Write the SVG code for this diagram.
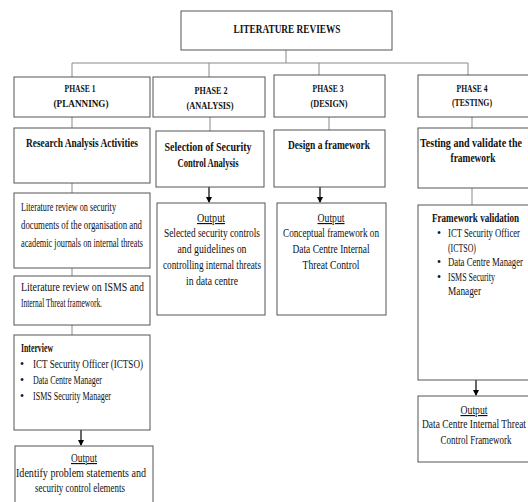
<svg xmlns="http://www.w3.org/2000/svg" width="528" height="502" viewBox="0 0 528 502">
<style>
.b{fill:#fff;stroke:#555;stroke-width:1}
.c{stroke:#8a8a8a;stroke-width:1;fill:none}
.a{stroke:#000;stroke-width:1.2;fill:none;marker-end:url(#ah)}
text{font-family:"Liberation Serif","Times New Roman",serif;font-size:11.5px;fill:#111}
.h{font-weight:bold;font-size:12.5px}
.p{font-weight:bold;font-size:11px}
.m{text-anchor:middle}
.u{text-decoration:underline}
</style>
<defs>
<marker id="ah" markerWidth="6" markerHeight="6" refX="5" refY="3" orient="auto" markerUnits="userSpaceOnUse">
<path d="M0,0 L6,3 L0,6 Z" fill="#000"/>
</marker>
</defs>
<g id="connectors">
<path class="c" d="M286,50 V63 M72,63 H468 M72,63 V77 M209,63 V77 M319,63 V75 M468,63 V75"/>
<path class="c" d="M72,117 V128 M210,117 V131 M329,117 V130 M472,117 V128"/>
<path class="c" d="M72,183 V193 M72,268 V276 M72,325 V335 M472,188 V205"/>
<path class="a" d="M81,430 V445"/>
<path class="a" d="M209,187 V202"/>
<path class="a" d="M320,187 V202"/>
<path class="a" d="M476,380 V395"/>
</g>
<g id="literature-reviews">
<rect class="b" x="181" y="11" width="211" height="39"/>
<text class="m" x="287" y="33" style="font-weight:bold;font-size:13.5px" textLength="107" lengthAdjust="spacingAndGlyphs">LITERATURE REVIEWS</text>
</g>
<g id="phase1">
<rect class="b" x="14" y="77" width="136" height="40"/>
<text class="p m" x="80" y="92" textLength="31" lengthAdjust="spacingAndGlyphs">PHASE 1</text>
<text class="p m" x="81" y="107" textLength="55" lengthAdjust="spacingAndGlyphs">(PLANNING)</text>
</g>
<g id="phase2">
<rect class="b" x="153" y="77" width="112" height="40"/>
<text class="p m" x="211" y="94" textLength="33" lengthAdjust="spacingAndGlyphs">PHASE 2</text>
<text class="p m" x="210" y="109" textLength="47" lengthAdjust="spacingAndGlyphs">(ANALYSIS)</text>
</g>
<g id="phase3">
<rect class="b" x="274" y="75" width="111" height="42"/>
<text class="p m" x="328" y="92" textLength="31" lengthAdjust="spacingAndGlyphs">PHASE 3</text>
<text class="p m" x="329" y="107" textLength="37" lengthAdjust="spacingAndGlyphs">(DESIGN)</text>
</g>
<g id="phase4">
<rect class="b" x="418" y="75" width="111" height="42"/>
<text class="p m" x="472" y="92" textLength="31" lengthAdjust="spacingAndGlyphs">PHASE 4</text>
<text class="p m" x="472" y="106" textLength="40" lengthAdjust="spacingAndGlyphs">(TESTING)</text>
</g>
<g id="research">
<rect class="b" x="14" y="128" width="136" height="55"/>
<text class="h m" x="82" y="147" textLength="112" lengthAdjust="spacingAndGlyphs">Research Analysis Activities</text>
</g>
<g id="selection">
<rect class="b" x="156" y="131" width="108" height="56"/>
<text class="h m" x="208" y="151" textLength="87" lengthAdjust="spacingAndGlyphs">Selection of Security</text>
<text class="h m" x="208" y="167" textLength="61" lengthAdjust="spacingAndGlyphs">Control Analysis</text>
</g>
<g id="design">
<rect class="b" x="274" y="130" width="111" height="57"/>
<text class="h m" x="329" y="149" textLength="82" lengthAdjust="spacingAndGlyphs">Design a framework</text>
</g>
<g id="testing">
<rect class="b" x="418" y="128" width="111" height="60"/>
<text class="h m" x="471" y="147" textLength="102" lengthAdjust="spacingAndGlyphs">Testing and validate the</text>
<text class="h m" x="473" y="162" textLength="45" lengthAdjust="spacingAndGlyphs">framework</text>
</g>
<g id="lit-review-1">
<rect class="b" x="14" y="193" width="136" height="75"/>
<text x="21" y="211" textLength="95" lengthAdjust="spacingAndGlyphs">Literature review on security</text>
<text x="21" y="229" textLength="121" lengthAdjust="spacingAndGlyphs">documents of the organisation and</text>
<text x="21" y="247" textLength="122" lengthAdjust="spacingAndGlyphs">academic journals on internal threats</text>
</g>
<g id="lit-review-2">
<rect class="b" x="14" y="276" width="136" height="49"/>
<text x="21" y="291" textLength="123" lengthAdjust="spacingAndGlyphs">Literature review on ISMS and</text>
<text x="21" y="307" textLength="81" lengthAdjust="spacingAndGlyphs">Internal Threat framework.</text>
</g>
<g id="interview">
<rect class="b" x="14" y="335" width="136" height="95"/>
<text x="21" y="352" style="font-weight:bold" textLength="32" lengthAdjust="spacingAndGlyphs">Interview</text>
<text x="20" y="368">•</text>
<text x="33" y="368" textLength="110" lengthAdjust="spacingAndGlyphs">ICT Security Officer (ICTSO)</text>
<text x="20" y="384">•</text>
<text x="33" y="384" textLength="69" lengthAdjust="spacingAndGlyphs">Data Centre Manager</text>
<text x="20" y="400">•</text>
<text x="33" y="400" textLength="78" lengthAdjust="spacingAndGlyphs">ISMS Security Manager</text>
</g>
<g id="output1">
<rect class="b" x="15" y="446" width="138" height="58"/>
<text class="m u" x="84" y="462" textLength="26" lengthAdjust="spacingAndGlyphs">Output</text>
<text class="m" x="81" y="477" textLength="130" lengthAdjust="spacingAndGlyphs">Identify problem statements and</text>
<text class="m" x="80" y="492" textLength="90" lengthAdjust="spacingAndGlyphs">security control elements</text>
</g>
<g id="output2">
<rect class="b" x="157" y="203" width="108" height="112"/>
<text class="m u" x="211" y="222" textLength="28" lengthAdjust="spacingAndGlyphs">Output</text>
<text class="m" x="212" y="237" textLength="96" lengthAdjust="spacingAndGlyphs">Selected security controls</text>
<text class="m" x="212" y="253" textLength="69" lengthAdjust="spacingAndGlyphs">and guidelines on</text>
<text class="m" x="212" y="269" textLength="98" lengthAdjust="spacingAndGlyphs">controlling internal threats</text>
<text class="m" x="212" y="285" textLength="52" lengthAdjust="spacingAndGlyphs">in data centre</text>
</g>
<g id="output3">
<rect class="b" x="277" y="203" width="109" height="112"/>
<text class="m u" x="331" y="222" textLength="27" lengthAdjust="spacingAndGlyphs">Output</text>
<text class="m" x="331" y="237" textLength="96" lengthAdjust="spacingAndGlyphs">Conceptual framework on</text>
<text class="m" x="331" y="253" textLength="77" lengthAdjust="spacingAndGlyphs">Data Centre Internal</text>
<text class="m" x="331" y="269" textLength="57" lengthAdjust="spacingAndGlyphs">Threat Control</text>
</g>
<g id="framework-validation">
<rect class="b" x="418" y="205" width="111" height="175"/>
<text x="432" y="222" style="font-weight:bold" textLength="87" lengthAdjust="spacingAndGlyphs">Framework validation</text>
<text x="437" y="237">•</text>
<text x="448" y="237" textLength="72" lengthAdjust="spacingAndGlyphs">ICT Security Officer</text>
<text x="448" y="252" textLength="28" lengthAdjust="spacingAndGlyphs">(ICTSO)</text>
<text x="437" y="266">•</text>
<text x="448" y="266" textLength="75" lengthAdjust="spacingAndGlyphs">Data Centre Manager</text>
<text x="437" y="281">•</text>
<text x="448" y="281" textLength="47" lengthAdjust="spacingAndGlyphs">ISMS Security</text>
<text x="448" y="295" textLength="33" lengthAdjust="spacingAndGlyphs">Manager</text>
</g>
<g id="output4">
<rect class="b" x="418" y="396" width="111" height="66"/>
<text class="m u" x="474" y="414" textLength="27" lengthAdjust="spacingAndGlyphs">Output</text>
<text class="m" x="474" y="428" textLength="104" lengthAdjust="spacingAndGlyphs">Data Centre Internal Threat</text>
<text class="m" x="476" y="444" textLength="71" lengthAdjust="spacingAndGlyphs">Control Framework</text>
</g>
</svg>
